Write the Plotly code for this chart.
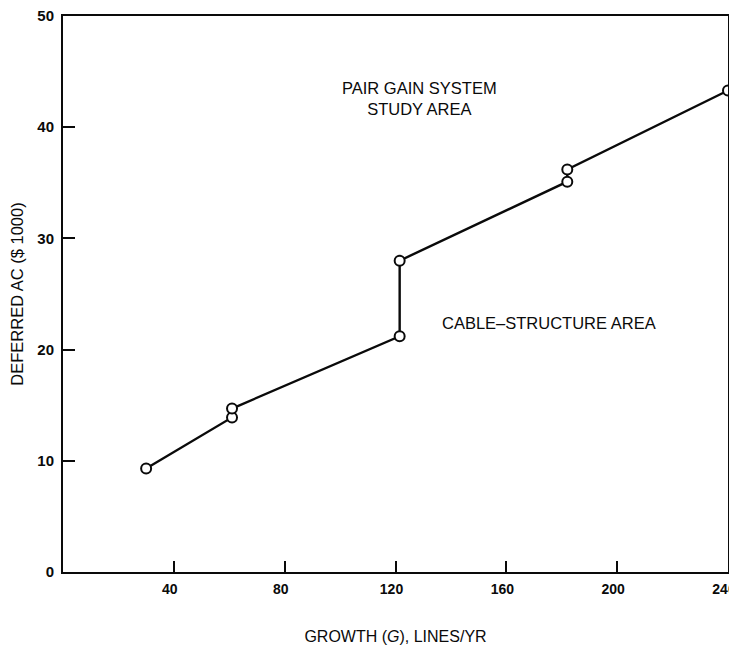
import plotly.graph_objects as go

growth = [30, 61, 61, 121.5, 121.5, 182, 182, 240]
deferred_ac = [9.3, 13.9, 14.7, 21.2, 28.0, 35.1, 36.2, 43.3]

x_ticks = [40, 80, 120, 160, 200, 240]
y_ticks = [0, 10, 20, 30, 40, 50]

font_family = "Liberation Sans, Arial, Helvetica, sans-serif"
ink = "#0a0a0a"

fig = go.Figure()
fig.add_trace(go.Scatter(
    x=growth, y=deferred_ac, mode="lines+markers",
    line=dict(color=ink, width=2.4),
    marker=dict(symbol="circle", size=10, color="white",
                line=dict(color=ink, width=2)),
    cliponaxis=False, showlegend=False,
))

fig.add_annotation(x=128.5, y=42.6, text="PAIR GAIN SYSTEM<br>STUDY AREA",
                   showarrow=False, font=dict(family=font_family, size=16.5, color=ink))
fig.add_annotation(x=175.5, y=22.4, text="CABLE\u2013STRUCTURE AREA",
                   showarrow=False, font=dict(family=font_family, size=16.5, color=ink))

fig.update_xaxes(
    range=[0, 240], tickvals=x_ticks, ticktext=[str(v) for v in x_ticks],
    ticks="inside", ticklen=11, tickwidth=1.5, tickcolor=ink,
    showline=True, linecolor=ink, linewidth=2, mirror=True,
    showgrid=False, zeroline=False, automargin=False,
    ticklabelstandoff=3, ticklabelshift=-4, ticklabeloverflow="allow",
    tickfont=dict(family=font_family, size=14, color=ink, weight="bold"),
    title=dict(text="GROWTH (<i>G</i>), LINES/YR", standoff=37,
               font=dict(family=font_family, size=16, color=ink)),
)
fig.update_yaxes(
    range=[0, 50], tickvals=y_ticks, ticktext=[str(v) for v in y_ticks],
    ticks="inside", ticklen=12, tickwidth=1.5, tickcolor=ink,
    showline=True, linecolor=ink, linewidth=2, mirror=True,
    showgrid=False, zeroline=False, automargin=False,
    ticklabelstandoff=4, ticklabeloverflow="allow",
    tickfont=dict(family=font_family, size=15, color=ink, weight="bold"),
    title=dict(text="DEFERRED AC ($ 1000)", standoff=18,
               font=dict(family=font_family, size=16.5, color=ink)),
)

fig.update_layout(
    width=737, height=637,
    margin=dict(l=55, r=17, t=8, b=73, autoexpand=False),
    paper_bgcolor="white", plot_bgcolor="white",
)

fig.write_html("out.html")
